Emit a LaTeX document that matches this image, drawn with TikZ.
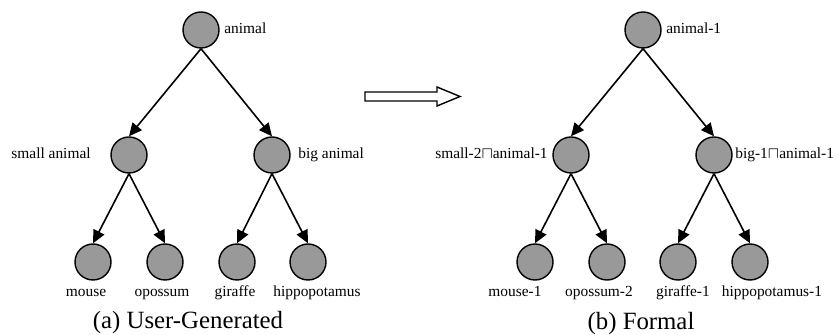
\documentclass[tikz,border=0pt]{standalone}
\usepackage{fontspec}
\setmainfont{Liberation Serif}
\usetikzlibrary{arrows.meta}
\definecolor{nodegray}{gray}{0.6}
\tikzset{
  cnode/.style={circle,draw=black,fill=nodegray,line width=0.7pt,minimum size=18pt,inner sep=0pt},
  isa/.style={-{Triangle[length=6.5pt,width=6pt]},line width=0.8pt},
  word/.style={font=\fontsize{7.7}{9}\selectfont,inner sep=0pt},
  caption/.style={font=\fontsize{12.4}{14}\selectfont,inner sep=0pt}
}

\begin{document}
\begin{tikzpicture}[x=0.5pt,y=-0.5pt]
     \useasboundingbox (0,0) rectangle (839,335);

     % (a) user-generated
     \node[cnode] (a0) at (201,30) {};
     \node[cnode] (s0) at (129,155) {};
     \node[cnode] (b0) at (272,155) {};
     \node[cnode] (m0) at (93,262) {};
     \node[cnode] (o0) at (165,262) {};
     \node[cnode] (g0) at (237,262) {};
     \node[cnode] (h0) at (308,262) {};

     \node[word,anchor=base west] (la0) at (224,34) {animal};
     \node[word,anchor=base east] (ls0) at (91,159) {small animal};
     \node[word,anchor=base west] (lb0) at (298,159) {big animal};
     \node[word,anchor=base] (lm0) at (86,297) {mouse};
     \node[word,anchor=base] (lo0) at (162,297) {opossum};
     \node[word,anchor=base] (lg0) at (235,297) {giraffe};
     \node[word,anchor=base] (lh0) at (317,297) {hippopotamus};
     \node[caption,anchor=base] (cap0) at (188,329) {(a) User-Generated};

     % (b) formal
     \node[cnode] (a1) at (643,30) {};
     \node[cnode] (s1) at (571,155) {};
     \node[cnode] (b1) at (714,155) {};
     \node[cnode] (m1) at (535,262) {};
     \node[cnode] (o1) at (607,262) {};
     \node[cnode] (g1) at (678,262) {};
     \node[cnode] (h1) at (750,262) {};

     \node[word,anchor=base west] (la1) at (666,34) {animal-1};
     \node[word,anchor=base east] (ls1) at (548,159) {small-2$\sqcap$animal-1};
     \node[word,anchor=base west] (lb1) at (735,159) {big-1$\sqcap$animal-1};
     \node[word,anchor=base] (lm1) at (515,297) {mouse-1};
     \node[word,anchor=base] (lo1) at (599,297) {opossum-2};
     \node[word,anchor=base] (lg1) at (683,297) {giraffe-1};
     \node[word,anchor=base] (lh1) at (772,297) {hippopotamus-1};
     \node[caption,anchor=base] (cap1) at (641,330) {(b) Formal};

     % edges
     \foreach \t in {0,1} {
       \draw[isa] (a\t.south) -- (s\t.north);
       \draw[isa] (a\t.south) -- (b\t.north);
       \draw[isa] (s\t.south) -- (m\t.north);
       \draw[isa] (s\t.south) -- (o\t.north);
       \draw[isa] (b\t.south) -- (g\t.north);
       \draw[isa] (b\t.south) -- (h\t.north);
     }

     % hollow arrow between the trees
     \draw[line width=0.7pt,fill=white] (365,92) -- (437,92) -- (437,87) -- (460,96.5)
       -- (437,106) -- (437,101) -- (365,101) -- cycle;
\end{tikzpicture}
\end{document}
